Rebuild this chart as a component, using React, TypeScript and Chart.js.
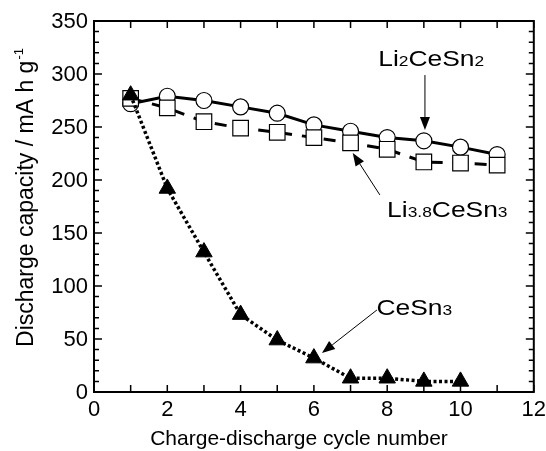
import React, { useEffect, useRef } from "react";
import Chart from "chart.js/auto";

const cycles = [1, 2, 3, 4, 5, 6, 7, 8, 9, 10, 11];
const li2CeSn2 = [272, 279, 275, 269, 263, 252, 246, 240, 237, 231, 224];
const li38CeSn3 = [277, 268, 255, 249, 245, 240, 235, 229, 217, 216, 214];
const ceSn3Cycles = [1, 2, 3, 4, 5, 6, 7, 8, 9, 10];
const ceSn3 = [280, 192, 132, 73, 49, 32, 13, 13, 10, 10];

const xTickLabels = [0, 2, 4, 6, 8, 10, 12];
const yTickLabels = [0, 50, 100, 150, 200, 250, 300, 350];

const xTitle = "Charge-discharge cycle number";
const yTitle = "Discharge capacity / mA h g";
const yTitleSup = "-1";

// rich text labels: [text, isSubscript]
const labelLi2 = [["Li", false], ["2", true], ["CeSn", false], ["2", true]];
const labelLi38 = [["Li", false], ["3.8", true], ["CeSn", false], ["3", true]];
const labelCeSn3 = [["CeSn", false], ["3", true]];
const labelPos = [
  { parts: labelLi2, x: 9.2, y: 307.5 },
  { parts: labelLi38, x: 9.64, y: 165.4 },
  { parts: labelCeSn3, x: 8.74, y: 72.6 },
];
const arrows = [
  { from: [9.03, 299], to: [9.03, 247.2] },
  { from: [7.8, 185.9], to: [7.06, 225.5] },
  { from: [7.72, 77.4], to: [6.22, 36.8] },
];

const FONT = "'Liberation Sans', Arial, sans-serif";

const decorPlugin = {
  id: "decor",
  afterDraw(chart: any) {
    const ctx = chart.ctx as CanvasRenderingContext2D;
    const xs = chart.scales.x;
    const ys = chart.scales.y;
    const { left, right, top, bottom } = chart.chartArea;
    ctx.save();
    ctx.strokeStyle = "#000";
    ctx.fillStyle = "#000";
    // frame
    ctx.lineWidth = 2;
    ctx.strokeRect(left, top, right - left, bottom - top);
    // ticks
    ctx.lineWidth = 1.5;
    ctx.beginPath();
    for (let v = 0; v <= 12; v += 1) {
      const px = xs.getPixelForValue(v);
      const len = 7;
      ctx.moveTo(px, bottom);
      ctx.lineTo(px, bottom - len);
      ctx.moveTo(px, top);
      ctx.lineTo(px, top + len);
    }
    for (let v = 0; v <= 350; v += 10) {
      const py = ys.getPixelForValue(v);
      const len = v % 50 === 0 ? 8 : 5;
      ctx.moveTo(left, py);
      ctx.lineTo(left + len, py);
      ctx.moveTo(right, py);
      ctx.lineTo(right - len, py);
    }
    ctx.stroke();

    // tick labels
    ctx.font = `22px ${FONT}`;
    ctx.textAlign = "right";
    ctx.textBaseline = "middle";
    yTickLabels.forEach((v) => {
      ctx.fillText(String(v), left - 6, ys.getPixelForValue(v) + 1);
    });
    ctx.textAlign = "center";
    ctx.textBaseline = "top";
    xTickLabels.forEach((v) => {
      ctx.fillText(String(v), xs.getPixelForValue(v), bottom + 7);
    });

    // x title
    ctx.font = `21px ${FONT}`;
    ctx.textBaseline = "alphabetic";
    ctx.fillText(xTitle, 299, 445);

    // y title
    ctx.save();
    ctx.translate(33, 198);
    ctx.rotate(-Math.PI / 2);
    ctx.font = `23px ${FONT}`;
    const w1 = ctx.measureText(yTitle).width;
    ctx.font = `13px ${FONT}`;
    const w2 = ctx.measureText(yTitleSup).width;
    const start = -(w1 + w2) / 2;
    ctx.textAlign = "left";
    ctx.font = `23px ${FONT}`;
    ctx.fillText(yTitle, start, 0);
    ctx.font = `13px ${FONT}`;
    ctx.fillText(yTitleSup, start + w1 + 1, -10);
    ctx.restore();

    // annotations (horizontally stretched like the reference)
    const SX = 1.2;
    labelPos.forEach((lab) => {
      const cx = xs.getPixelForValue(lab.x);
      const by = ys.getPixelForValue(lab.y);
      const widths = lab.parts.map(([t, sub]: any) => {
        ctx.font = `${sub ? 14.5 : 22}px ${FONT}`;
        return ctx.measureText(t).width;
      });
      const total = widths.reduce((a: number, b: number) => a + b, 0);
      ctx.save();
      ctx.translate(cx, by);
      ctx.scale(SX, 1);
      let x = -total / 2;
      ctx.textAlign = "left";
      lab.parts.forEach(([t, sub]: any, i: number) => {
        ctx.font = `${sub ? 14.5 : 22}px ${FONT}`;
        ctx.fillText(t, x, 0);
        x += widths[i];
      });
      ctx.restore();
    });

    // arrows
    ctx.lineWidth = 1;
    arrows.forEach((a) => {
      const x1 = xs.getPixelForValue(a.from[0]);
      const y1 = ys.getPixelForValue(a.from[1]);
      const x2 = xs.getPixelForValue(a.to[0]);
      const y2 = ys.getPixelForValue(a.to[1]);
      const ang = Math.atan2(y2 - y1, x2 - x1);
      const hl = 13;
      const hw = 5;
      const bx = x2 - hl * Math.cos(ang);
      const by = y2 - hl * Math.sin(ang);
      ctx.beginPath();
      ctx.moveTo(x1, y1);
      ctx.lineTo(bx, by);
      ctx.stroke();
      ctx.beginPath();
      ctx.moveTo(x2, y2);
      ctx.lineTo(bx + hw * Math.sin(ang), by - hw * Math.cos(ang));
      ctx.lineTo(bx - hw * Math.sin(ang), by + hw * Math.cos(ang));
      ctx.closePath();
      ctx.fill();
    });
    ctx.restore();
  },
};

export default function App() {
  const ref = useRef<HTMLCanvasElement | null>(null);
  useEffect(() => {
    document.body.style.margin = "0";
    const canvas = ref.current;
    if (!canvas) return;
    const toPts = (xs: number[], ys: number[]) => xs.map((x, i) => ({ x, y: ys[i] }));
    const chart = new Chart(canvas, {
      type: "line",
      data: {
        datasets: [
          {
            label: "CeSn3",
            data: toPts(ceSn3Cycles, ceSn3),
            borderColor: "#000",
            backgroundColor: "#000",
            borderWidth: 3.5,
            borderDash: [3, 2.5],
            pointStyle: "triangle",
            pointRadius: 9.5,
            pointBorderWidth: 1,
            pointBackgroundColor: "#000",
            pointBorderColor: "#000",
            order: 0,
          },
          {
            label: "Li3.8CeSn3",
            data: toPts(cycles, li38CeSn3),
            borderColor: "#000",
            borderWidth: 3,
            borderDash: [12, 10],
            pointStyle: "rect",
            pointRadius: 11,
            pointBorderWidth: 1.2,
            pointBackgroundColor: "#fff",
            pointBorderColor: "#000",
            order: 1,
          },
          {
            label: "Li2CeSn2",
            data: toPts(cycles, li2CeSn2),
            borderColor: "#000",
            borderWidth: 3,
            pointStyle: "circle",
            pointRadius: 8,
            pointBorderWidth: 1.2,
            pointBackgroundColor: "#fff",
            pointBorderColor: "#000",
            order: 2,
          },
        ],
      },
      options: {
        animation: false,
        responsive: true,
        maintainAspectRatio: false,
        layout: { padding: { left: 94, top: 21, right: 12, bottom: 59 } },
        plugins: { legend: { display: false }, tooltip: { enabled: false } },
        scales: {
          x: { type: "linear", min: 0, max: 12, display: false },
          y: { type: "linear", min: 0, max: 350, display: false },
        },
      },
      plugins: [decorPlugin],
    });
    return () => chart.destroy();
  }, []);
  return (
    <div style={{ position: "absolute", left: 0, top: 0, width: 546, height: 451, background: "#fff" }}>
      <canvas ref={ref} />
    </div>
  );
}
